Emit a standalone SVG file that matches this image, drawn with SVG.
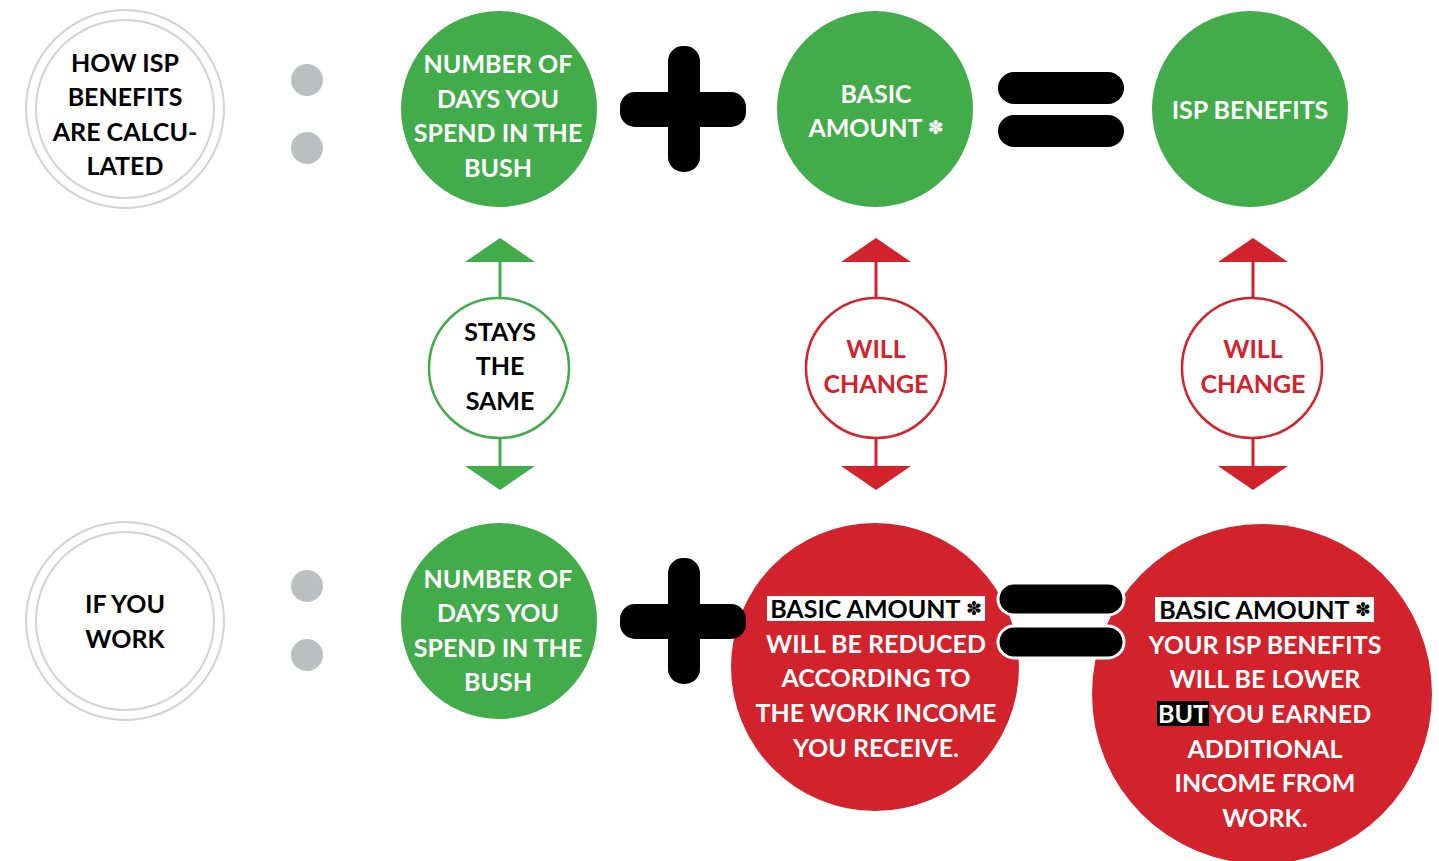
<svg xmlns="http://www.w3.org/2000/svg" width="1439" height="861" viewBox="0 0 1439 861">
<style>
.t{font-family:Lato,"Liberation Sans",sans-serif;font-weight:700;font-size:25px;text-anchor:middle}
.w{fill:#ffffff}.b{fill:#000000}.r{fill:#d2232c}
.ring{fill:#fff;stroke:#d1d3d4;stroke-width:2}
.dot{fill:#bcbec0}
.g{fill:#43ac4a}.rd{fill:#d2232c}
.op{fill:#000}
.eq{fill:#000;stroke:#fff;stroke-width:3}
.gl{stroke:#43ac4a;stroke-width:3}.rl{stroke:#d2232c;stroke-width:3}
.st{font-family:"DejaVu Sans",sans-serif;font-size:19px}
</style>
<rect width="1439" height="861" fill="#fff"/>
<!-- row 1 -->
<g id="title1">
<circle class="ring" cx="125" cy="109" r="99"/>
<circle class="ring" cx="125" cy="109" r="89"/>
<text class="t b" x="125" y="72">HOW ISP</text>
<text class="t b" x="125" y="106">BENEFITS</text>
<text class="t b" x="125" y="141">ARE CALCU-</text>
<text class="t b" x="125" y="175">LATED</text>
</g>
<g id="colon1"><circle class="dot" cx="307" cy="80" r="16"/><circle class="dot" cx="307" cy="148" r="16"/></g>
<g id="days1">
<circle class="g" cx="499" cy="109" r="98"/>
<text class="t w" x="498" y="73">NUMBER OF</text>
<text class="t w" x="498" y="108">DAYS YOU</text>
<text class="t w" x="498" y="142">SPEND IN THE</text>
<text class="t w" x="498" y="177">BUSH</text>
</g>
<g id="plus1"><rect class="op" x="668" y="46" width="32" height="126" rx="15"/><rect class="op" x="620" y="92" width="126" height="35" rx="15"/></g>
<g id="basic1">
<circle class="g" cx="875" cy="109" r="98"/>
<text class="t w" x="876" y="103">BASIC</text>
<text class="t w" x="876" y="137">AMOUNT <tspan class="st" dy="-3">✽</tspan></text>
</g>
<g id="eq1"><rect class="op" x="998" y="72" width="126" height="32" rx="16"/><rect class="op" x="998" y="115" width="126" height="32" rx="16"/></g>
<g id="isp1">
<circle class="g" cx="1250" cy="109" r="98"/>
<text class="t w" x="1250" y="119">ISP BENEFITS</text>
</g>
<!-- connectors -->
<g id="connectors">
<line class="gl" x1="500" y1="260" x2="500" y2="299"/>
<polygon class="g" points="500,238 535,262 465,262"/>
<line class="gl" x1="500" y1="437" x2="500" y2="468"/>
<polygon class="g" points="465,466 535,466 500,490"/>
<line class="rl" x1="876" y1="260" x2="876" y2="299"/>
<polygon class="rd" points="876,238 911,262 841,262"/>
<line class="rl" x1="876" y1="437" x2="876" y2="468"/>
<polygon class="rd" points="841,466 911,466 876,490"/>
<line class="rl" x1="1253" y1="260" x2="1253" y2="299"/>
<polygon class="rd" points="1253,238 1288,262 1218,262"/>
<line class="rl" x1="1253" y1="437" x2="1253" y2="468"/>
<polygon class="rd" points="1218,466 1288,466 1253,490"/>
</g>
<g id="same">
<circle cx="499" cy="368" r="70" fill="#fff" stroke="#43ac4a" stroke-width="2.5"/>
<text class="t b" x="500" y="341">STAYS</text>
<text class="t b" x="500" y="375">THE</text>
<text class="t b" x="500" y="410">SAME</text>
</g>
<g id="change1">
<circle cx="876" cy="368" r="70" fill="#fff" stroke="#d2232c" stroke-width="2.5"/>
<text class="t r" x="876" y="358">WILL</text>
<text class="t r" x="876" y="393">CHANGE</text>
</g>
<g id="change2">
<circle cx="1252" cy="368" r="70" fill="#fff" stroke="#d2232c" stroke-width="2.5"/>
<text class="t r" x="1253" y="358">WILL</text>
<text class="t r" x="1253" y="393">CHANGE</text>
</g>
<!-- row 2 -->
<g id="title2">
<circle class="ring" cx="125" cy="621" r="99"/>
<circle class="ring" cx="125" cy="621" r="89"/>
<text class="t b" x="125" y="613">IF YOU</text>
<text class="t b" x="125" y="648">WORK</text>
</g>
<g id="colon2"><circle class="dot" cx="307" cy="586" r="16"/><circle class="dot" cx="307" cy="655" r="16"/></g>
<g id="days2">
<circle class="g" cx="499" cy="621" r="98"/>
<text class="t w" x="498" y="588">NUMBER OF</text>
<text class="t w" x="498" y="622">DAYS YOU</text>
<text class="t w" x="498" y="657">SPEND IN THE</text>
<text class="t w" x="498" y="691">BUSH</text>
</g>
<g id="reduced">
<circle class="rd" cx="875" cy="667" r="144"/>
<rect x="767" y="596" width="218" height="25" fill="#fff"/>
<text class="t b" x="876" y="618">BASIC AMOUNT <tspan class="st" dy="-3">✽</tspan></text>
<text class="t w" x="876" y="653">WILL BE REDUCED</text>
<text class="t w" x="876" y="687">ACCORDING TO</text>
<text class="t w" x="876" y="722">THE WORK INCOME</text>
<text class="t w" x="876" y="757">YOU RECEIVE.</text>
</g>
<g id="lower">
<circle class="rd" cx="1262" cy="694" r="170"/>
<rect x="1155" y="597" width="219" height="25" fill="#fff"/>
<text class="t b" x="1265" y="619">BASIC AMOUNT <tspan class="st" dy="-3">✽</tspan></text>
<text class="t w" x="1265" y="654">YOUR ISP BENEFITS</text>
<text class="t w" x="1265" y="688">WILL BE LOWER</text>
<rect x="1157" y="701" width="52" height="25" fill="#000"/>
<text class="t w" x="1183" y="723">BUT</text>
<text class="t w" x="1291" y="723">YOU EARNED</text>
<text class="t w" x="1265" y="758">ADDITIONAL</text>
<text class="t w" x="1265" y="792">INCOME FROM</text>
<text class="t w" x="1265" y="827">WORK.</text>
</g>
<g id="plus2"><rect class="op" x="668" y="558" width="32" height="126" rx="15"/><rect class="op" x="620" y="604" width="126" height="35" rx="15"/></g>
<g id="eq2"><rect class="eq" x="998" y="583" width="126" height="32" rx="16"/><rect class="eq" x="998" y="626" width="126" height="32" rx="16"/></g>
</svg>
